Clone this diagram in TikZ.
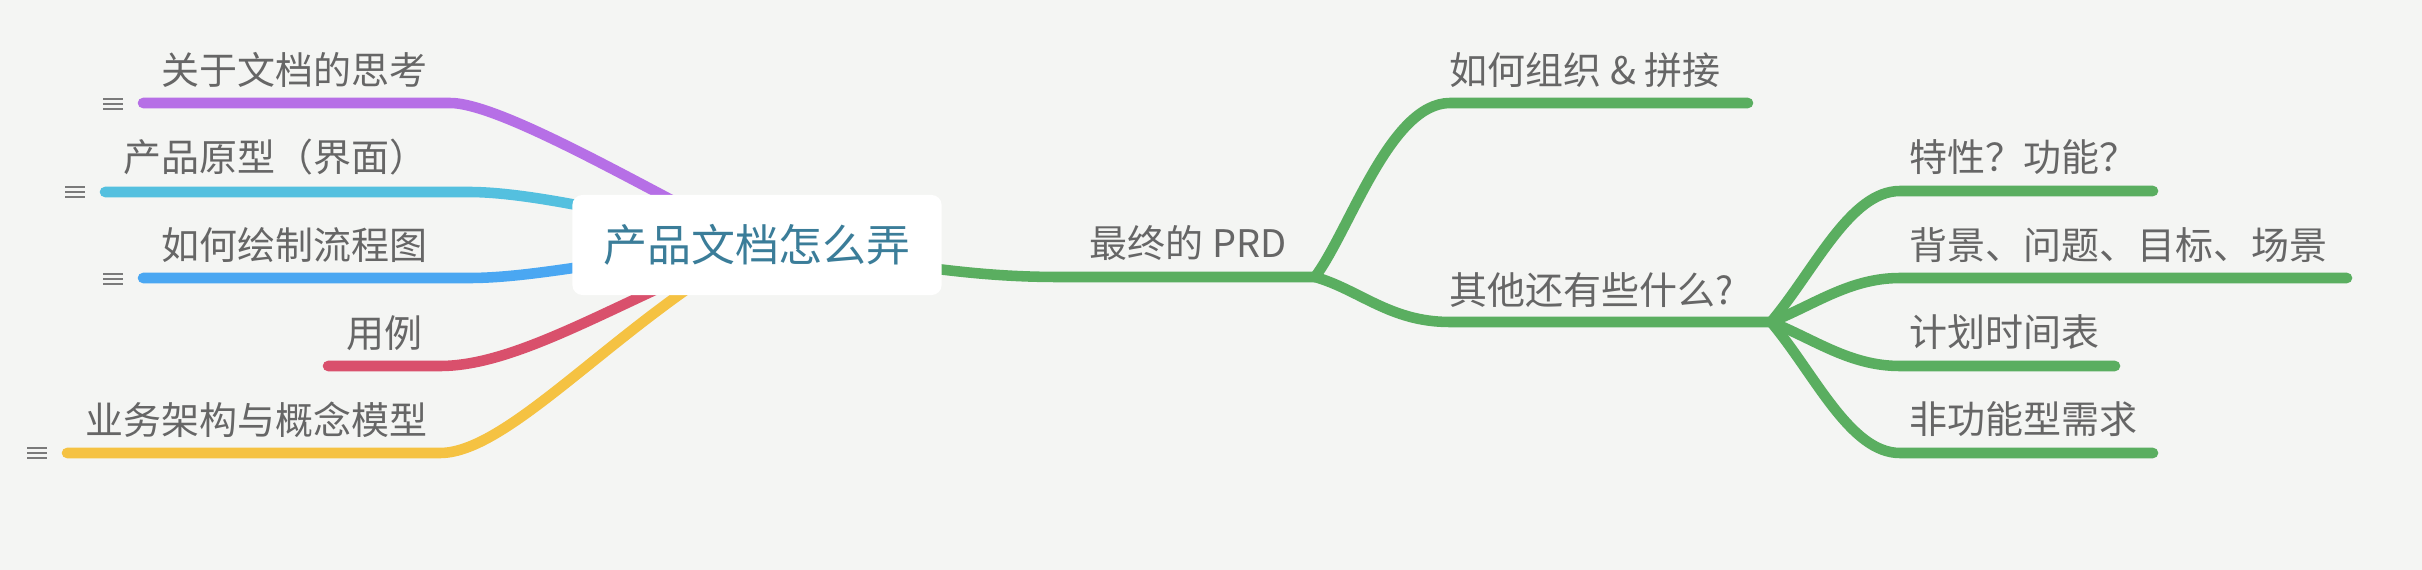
\documentclass[tikz,border=0pt]{standalone}
\usepackage{fontspec}
\setmainfont{Noto Sans CJK SC}
\usepackage{tikz}

\definecolor{bgcol}{HTML}{F4F5F3}
\definecolor{textgray}{HTML}{666666}
\definecolor{topicblue}{HTML}{3B7D99}
\definecolor{menugray}{HTML}{7A7A7A}
\definecolor{purp}{HTML}{B66FE6}
\definecolor{cyanb}{HTML}{54C0DF}
\definecolor{blueb}{HTML}{4AA7F2}
\definecolor{redb}{HTML}{D9506C}
\definecolor{yellowb}{HTML}{F5C242}
\definecolor{greenb}{HTML}{5AAE60}

\begin{document}
\begin{tikzpicture}[
    x=0.01cm, y=-0.01cm,
    branch/.style={line width=3pt, line cap=round},
    leaf/.style={anchor=base west, inner sep=0pt, text=textgray, font=\fontsize{10.8pt}{13pt}\selectfont},
    topic/.style={rectangle, rounded corners=0.1cm, fill=white, minimum width=3.69cm, minimum height=1cm, text=topicblue, font=\fontsize{12.5pt}{15pt}\selectfont},
    menu/.style={draw=menugray, line width=0.75pt}
]
    \fill[bgcol] (0,0) rectangle (2422,570);

    \coordinate (hub) at (757,245);
    \coordinate (fork) at (1315,277);
    \coordinate (fork2) at (1771,322);

    % left side
    \coordinate (think-a) at (450,103);   \coordinate (think-b) at (143,103);
    \coordinate (proto-a) at (469,192);   \coordinate (proto-b) at (105,192);
    \coordinate (flow-a) at (469,278);    \coordinate (flow-b) at (143,278);
    \coordinate (usecase-a) at (440,366); \coordinate (usecase-b) at (328,366);
    \coordinate (model-a) at (440,453);   \coordinate (model-b) at (67,453);

    \draw[branch, purp] (hub) .. controls (640,185) and (500,103) .. (think-a) -- (think-b);
    \draw[branch, cyanb] (hub) .. controls (630,215) and (530,192) .. (proto-a) -- (proto-b);
    \draw[branch, blueb] (hub) .. controls (630,255) and (540,278) .. (flow-a) -- (flow-b);
    \draw[branch, redb] (hub) .. controls (620,300) and (520,366) .. (usecase-a) -- (usecase-b);
    \draw[branch, yellowb] (hub) .. controls (620,320) and (510,453) .. (model-a) -- (model-b);

    \node[leaf] (think) at (161,85) {关于文档的思考};
    \node[leaf] (proto) at (123,172) {产品原型（界面）};
    \node[leaf] (flow) at (161,259) {如何绘制流程图};
    \node[leaf] (usecase) at (346,347) {用例};
    \node[leaf] (model) at (85,434) {业务架构与概念模型};

    % note icons
    \foreach \x/\y in {113/104, 75/192, 113/279, 37/453}
        \foreach \d in {-5,0,5}
            \draw[menu] (\x-10,\y+\d) -- (\x+10,\y+\d);

    % right side
    \coordinate (org-a) at (1450,103);   \coordinate (org-b) at (1748,103);
    \coordinate (other-a) at (1450,322);

    \draw[branch, greenb] (hub) .. controls (900,262) and (960,277) .. (1060,277) -- (fork);
    \draw[branch, greenb] (fork) .. controls +(35,-47) and +(-60,0) .. (org-a) -- (org-b);
    \draw[branch, greenb] (fork) .. controls +(45,13) and +(-60,0) .. (other-a) -- (fork2);

    \foreach \y/\len in {191/2153, 278/2347, 366/2115, 453/2153}
        \draw[branch, greenb] (fork2) .. controls +(44,{0.4*(\y-322)}) and +(-50,0) .. (1900,\y) -- (\len,\y);

    \node[leaf] (prd) at (1089,257) {最终的 PRD};
    \node[leaf] (org) at (1449,85) {如何组织 \& 拼接};
    \node[leaf] (other) at (1449,304) {其他还有些什么?};
    \node[leaf] (feature) at (1909,172) {特性？功能？};
    \node[leaf] (context) at (1909,259) {背景、问题、目标、场景};
    \node[leaf] (plan) at (1909,346) {计划时间表};
    \node[leaf] (nonfunc) at (1909,433) {非功能型需求};

    % central topic
    \node[topic] (root) at (hub) {产品文档怎么弄};
\end{tikzpicture}
\end{document}
